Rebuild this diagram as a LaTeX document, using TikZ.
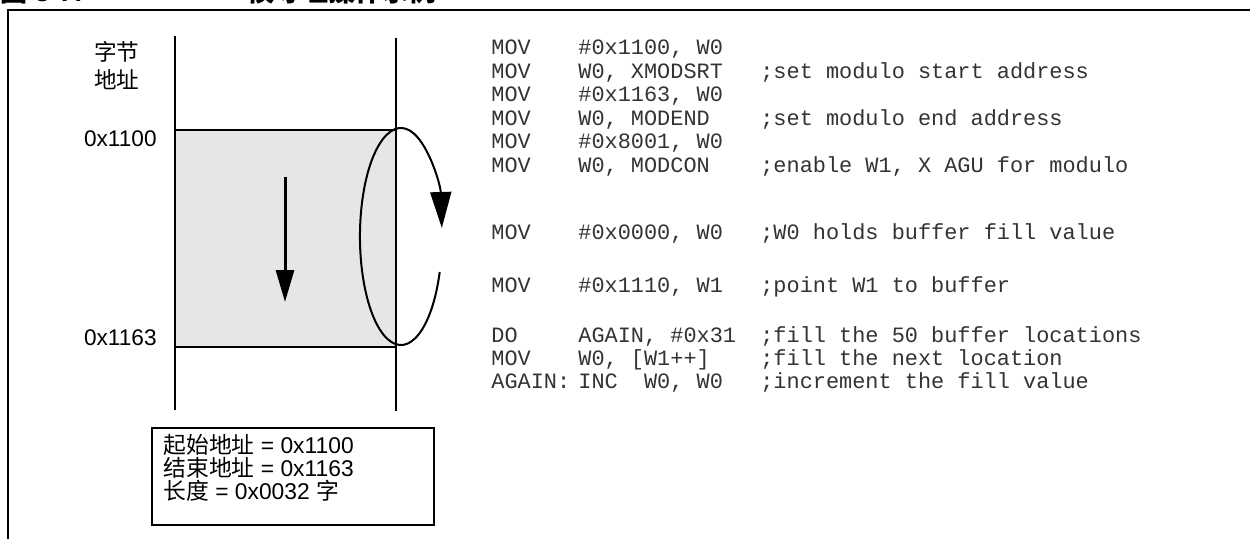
\documentclass[tikz,border=0pt]{standalone}
\usepackage{fontspec}
\setmainfont{Liberation Sans}
\setmonofont{Liberation Mono}
\newfontfamily\cjk{Noto Sans CJK SC}
\usetikzlibrary{arrows.meta}
\definecolor{bufgray}{HTML}{E6E6E6}
\newcommand{\asmline}[3]{\makebox[43.5pt][l]{#1}\makebox[91pt][l]{#2}#3}
\tikzset{
  code/.style={anchor=base west, inner sep=0pt, font=\ttfamily\fontsize{10.95}{12}\selectfont, text=black!80},
  addr/.style={anchor=base east, inner sep=0pt, font=\fontsize{11.3}{12}\selectfont},
  maplines/.style={line width=0.7pt},
}

\begin{document}
\begin{tikzpicture}[x=0.5pt, y=-0.5pt]
\useasboundingbox (0,0) rectangle (1250,538);
% frame and (cut) title
\draw[line width=1pt] (8,560) -- (8,10) -- (1270,10);
\node[anchor=base west, inner sep=0pt, font=\bfseries\fontsize{13.5}{13.5}\selectfont] (fignum) at (0,1.5) {{\cjk 图} 3-7:};
\node[anchor=base west, inner sep=0pt, font=\bfseries\fontsize{13.5}{13.5}\selectfont] (figtitle) at (247,1.5) {\cjk 模寻址操作示例};

% memory map
\fill[bufgray] (175,130) rectangle (396,347);
\draw[maplines] (175,36) -- (175,410);
\draw[maplines] (396,38) -- (396,411);
\draw[maplines] (175,130) -- (396,130);
\draw[maplines] (175,347) -- (396,347);

\node[font=\cjk\fontsize{11.3}{14}\selectfont, align=center] (bytelbl) at (117,66) {字节\\地址};
\node[addr] (start) at (157,146) {0x1100};
\node[addr] (end) at (157,345) {0x1163};

\draw[line width=1.5pt, -{Triangle[length=16pt,width=9pt]}] (285,177) -- (285,302);
\draw[line width=1pt, -{Triangle[length=18pt,width=10.5pt]}] (439.7,272)
  arc[start angle=-19.1, end angle=-355.5, x radius=20.5pt, y radius=54.25pt];

% buffer summary
\node[draw, line width=0.8pt, minimum width=141pt, minimum height=48.5pt, inner sep=0pt] (range) at (293,476.5) {};
\node[anchor=north west, align=left, inner sep=0pt, font=\fontsize{11.4}{11.6}\selectfont] (rangetxt) at (163,434)
  {{\cjk 起始地址} = 0x1100\\{\cjk 结束地址} = 0x1163\\{\cjk 长度} = 0x0032 {\cjk 字}};

% code listing
\node[code] (l1) at (491,54) {\asmline{MOV}{\#0x1100, W0}{}};
\node[code] (l2) at (491,78) {\asmline{MOV}{W0, XMODSRT}{;set modulo start address}};
\node[code] (l3) at (491,101) {\asmline{MOV}{\#0x1163, W0}{}};
\node[code] (l4) at (491,125) {\asmline{MOV}{W0, MODEND}{;set modulo end address}};
\node[code] (l5) at (491,148) {\asmline{MOV}{\#0x8001, W0}{}};
\node[code] (l6) at (491,172) {\asmline{MOV}{W0, MODCON}{;enable W1, X AGU for modulo}};
\node[code] (l7) at (491,239) {\asmline{MOV}{\#0x0000, W0}{;W0 holds buffer fill value}};
\node[code] (l8) at (491,292) {\asmline{MOV}{\#0x1110, W1}{;point W1 to buffer}};
\node[code] (l9) at (491,342) {\asmline{DO}{AGAIN, \#0x31}{;fill the 50 buffer locations}};
\node[code] (l10) at (491,365) {\asmline{MOV}{W0, [W1++]}{;fill the next location}};
\node[code] (l11) at (491,388) {\asmline{AGAIN:}{INC\ \ W0, W0}{;increment the fill value}};
\end{tikzpicture}
\end{document}
